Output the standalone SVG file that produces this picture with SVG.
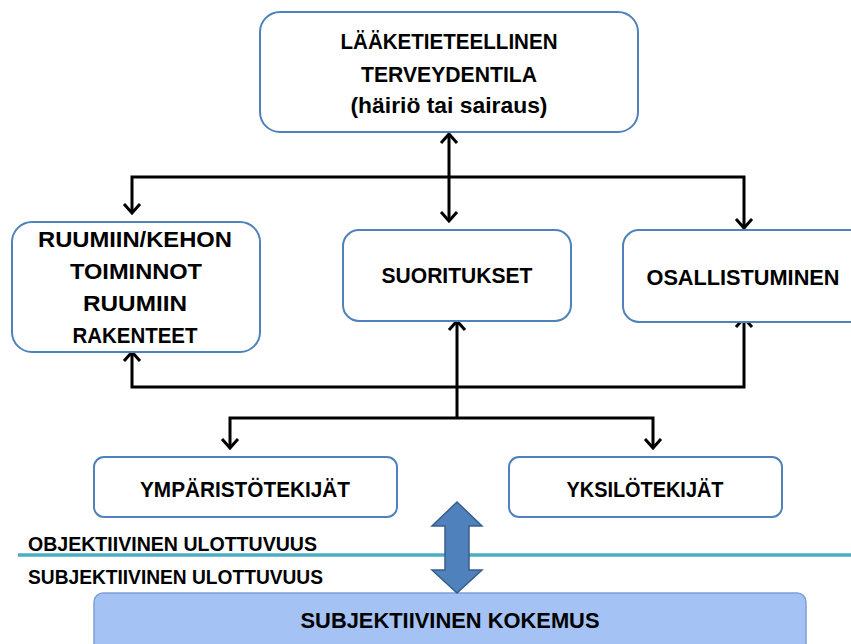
<svg xmlns="http://www.w3.org/2000/svg" width="851" height="644" viewBox="0 0 851 644">
  <style>
    .box { fill: #ffffff; stroke: #4F81BD; stroke-width: 2; }
    .lbl { font-family: "Liberation Sans", Arial, sans-serif; font-weight: bold; font-size: 22px; fill: #000000; text-anchor: middle; }
    .dim { font-family: "Liberation Sans", Arial, sans-serif; font-weight: bold; font-size: 19.5px; fill: #000000; }
    .conn { fill: none; stroke: #000000; stroke-width: 3; }
  </style>
  <defs>
    <marker id="chev" viewBox="-12 -10 14 20" refX="0" refY="0" markerWidth="14" markerHeight="20" markerUnits="userSpaceOnUse" orient="auto-start-reverse">
      <path d="M-9,-8 L0,0 L-9,8" fill="none" stroke="#000000" stroke-width="3"/>
    </marker>
  </defs>

  <rect width="851" height="644" fill="#ffffff"/>

  <!-- dimension divider -->
  <g id="divider">
    <line x1="18" y1="555" x2="851" y2="555" stroke="#4BACC6" stroke-width="3.5"/>
    <text class="dim" x="28" y="551" textLength="289" lengthAdjust="spacingAndGlyphs">OBJEKTIIVINEN ULOTTUVUUS</text>
    <text class="dim" x="28" y="584" textLength="295" lengthAdjust="spacingAndGlyphs">SUBJEKTIIVINEN ULOTTUVUUS</text>
  </g>

  <g id="connectors">
    <line class="conn" x1="449" y1="134" x2="449" y2="221" marker-start="url(#chev)" marker-end="url(#chev)"/>
    <path class="conn" d="M132,213 V177 H744 V228" marker-start="url(#chev)" marker-end="url(#chev)"/>
    <path class="conn" d="M132,352 V387 H744 V318" marker-start="url(#chev)" marker-end="url(#chev)"/>
    <path class="conn" d="M457,321 V418" marker-start="url(#chev)"/>
    <path class="conn" d="M230,448 V418 H653 V448" marker-start="url(#chev)" marker-end="url(#chev)"/>
  </g>

  <g id="node-terveydentila">
    <rect class="box" x="260" y="12" width="378" height="120" rx="20"/>
    <text class="lbl" x="449" y="49" textLength="217" lengthAdjust="spacingAndGlyphs">LÄÄKETIETEELLINEN</text>
    <text class="lbl" x="449" y="82" textLength="176" lengthAdjust="spacingAndGlyphs">TERVEYDENTILA</text>
    <text class="lbl" x="449" y="113" textLength="197" lengthAdjust="spacingAndGlyphs">(häiriö tai sairaus)</text>
  </g>

  <g id="node-ruumiin">
    <rect class="box" x="12" y="222" width="248" height="130" rx="20"/>
    <text class="lbl" x="135" y="247" textLength="194" lengthAdjust="spacingAndGlyphs">RUUMIIN/KEHON</text>
    <text class="lbl" x="136" y="279" textLength="132" lengthAdjust="spacingAndGlyphs">TOIMINNOT</text>
    <text class="lbl" x="135" y="311" textLength="104" lengthAdjust="spacingAndGlyphs">RUUMIIN</text>
    <text class="lbl" x="135" y="343" textLength="125" lengthAdjust="spacingAndGlyphs">RAKENTEET</text>
  </g>

  <g id="node-suoritukset">
    <rect class="box" x="343" y="230" width="228" height="91" rx="16"/>
    <text class="lbl" x="457" y="283" textLength="151" lengthAdjust="spacingAndGlyphs">SUORITUKSET</text>
  </g>

  <g id="node-osallistuminen">
    <rect class="box" x="623" y="230" width="250" height="92" rx="16"/>
    <text class="lbl" x="743" y="285" textLength="193" lengthAdjust="spacingAndGlyphs">OSALLISTUMINEN</text>
  </g>

  <g id="node-ymparistotekijat">
    <rect class="box" x="94" y="457" width="303" height="60" rx="10"/>
    <text class="lbl" x="245" y="497" textLength="210" lengthAdjust="spacingAndGlyphs">YMPÄRISTÖTEKIJÄT</text>
  </g>

  <g id="node-yksilotekijat">
    <rect class="box" x="509" y="457" width="273" height="60" rx="10"/>
    <text class="lbl" x="645" y="497" textLength="157" lengthAdjust="spacingAndGlyphs">YKSILÖTEKIJÄT</text>
  </g>

  <g id="node-kokemus">
    <rect x="94" y="593" width="712" height="70" rx="9" fill="#A4C2F4" stroke="#7F9FD8" stroke-width="1.5"/>
    <text class="lbl" x="450" y="628" textLength="299" lengthAdjust="spacingAndGlyphs">SUBJEKTIIVINEN KOKEMUS</text>
  </g>

  <g id="node-double-arrow">
    <polygon points="457,502 482,526 469,526 469,570 482,570 457,593 432,570 445,570 445,526 432,526" fill="#4F81BD" stroke="#385D8A" stroke-width="1.5" stroke-linejoin="miter"/>
  </g>
</svg>
